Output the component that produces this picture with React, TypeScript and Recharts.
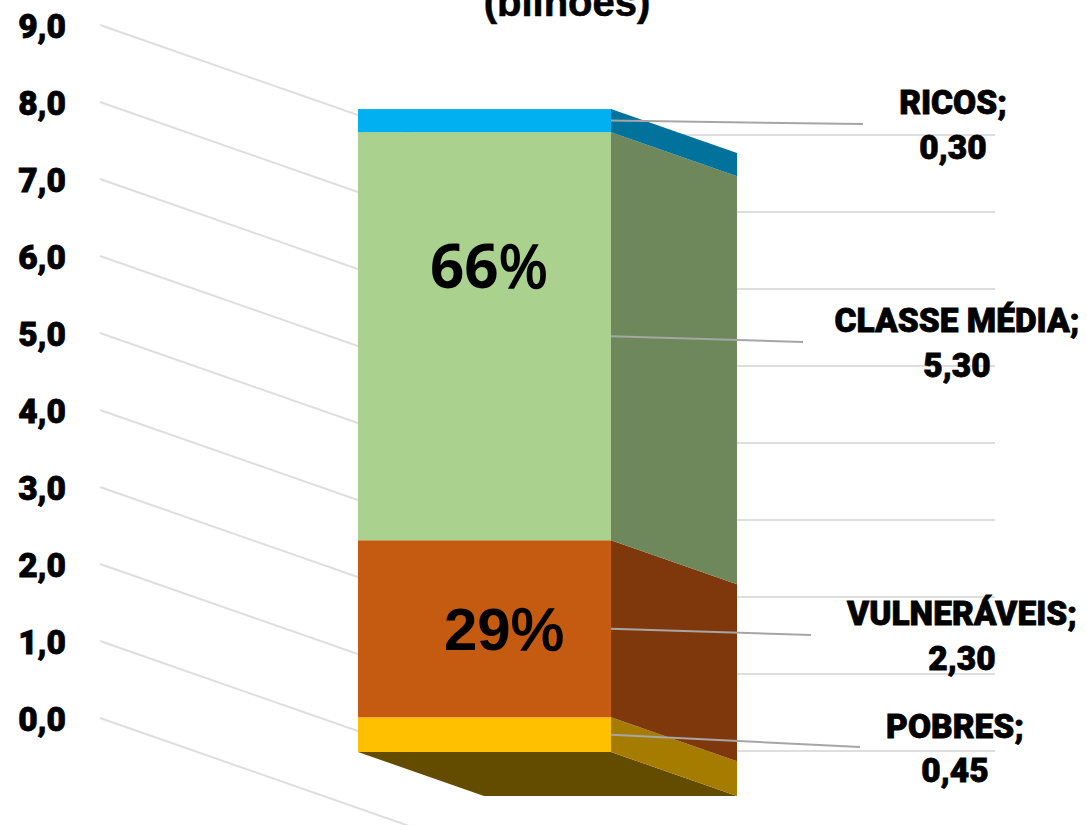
import React from 'react';
import { BarChart, Bar, XAxis, YAxis, CartesianGrid } from 'recharts';

const categories = ['População'];
const seriesNames = ['POBRES', 'VULNERÁVEIS', 'CLASSE MÉDIA', 'RICOS'];
const seriesValues = [0.45, 2.3, 5.3, 0.3];
const percentLabels = ['', '29', '66', ''];
const yTicks = [0, 1, 2, 3, 4, 5, 6, 7, 8, 9];

const data = categories.map(name => {
  const row: any = { name };
  seriesNames.forEach((s, i) => { row[s] = seriesValues[i]; });
  return row;
});

const FRONT = ['#FFC000', '#C55A11', '#ABD18E', '#00B0F0'];
const SIDE = ['#A67C00', '#7F380B', '#6E885C', '#00729C'];
const FLOOR = '#634C00';
const GRID = '#DEDEDE';
const LEADER = '#A6A6A6';
const DEPTH_X = 126;
const DEPTH_Y = 44;
const LABEL_FONT = 'Roboto, sans-serif';

// where the leader of each label ends and where its two text lines sit
const LEADER_END = [[860, 747], [811, 635], [803, 342], [863, 124]];
const LABEL_TEXT = [[955, 738, 782], [962, 625, 670], [957, 332, 377], [953, 114, 159]];
const PERCENT_POS = [[0, 0, ''], [504, 650, 'Liberation Sans, sans-serif'], [489, 288, 'Open Sans, sans-serif']];

const fmtTick = (v: number) => v.toFixed(1).replace('.', ',');
const fmtValue = (v: number) => v.toFixed(2).replace('.', ',');

const renderWall = (p: any) => {
  const y = p.y1 - 34;
  return (
    <path
      key={p.key}
      d={`M100,${y} L415,${y + 110} L995,${y + 110}`}
      fill="none"
      stroke={GRID}
      strokeWidth={2}
    />
  );
};

const renderTick = (p: any) => (
  <text
    x={66}
    y={p.y - 34 + 13}
    textAnchor="end"
    fontFamily={LABEL_FONT}
    fontWeight={900}
    fontSize={33.5}
    stroke="#000"
    strokeWidth={0.8}
    fill="#000"
  >
    {fmtTick(p.payload.value)}
  </text>
);

const makeShape = (i: number) => (p: any) => {
  const { x, y, width, height } = p;
  const r = x + width;
  const b = y + height;
  return (
    <g>
      {i === 0 && (
        <path
          d={`M${x},${b} L${r},${b} L${r + DEPTH_X},${b + DEPTH_Y} L${x + DEPTH_X},${b + DEPTH_Y} Z`}
          fill={FLOOR}
        />
      )}
      <path
        d={`M${r},${y} L${r + DEPTH_X},${y + DEPTH_Y} L${r + DEPTH_X},${b + DEPTH_Y} L${r},${b} Z`}
        fill={SIDE[i]}
      />
      <rect x={x} y={y} width={width} height={height} fill={FRONT[i]} />
    </g>
  );
};

const makeLabel = (i: number) => (p: any) => {
  const { x, y, width, height } = p;
  const r = x + width;
  const mid = y + height / 2;
  const [ex, ey] = LEADER_END[i];
  const [tx, ty1, ty2] = LABEL_TEXT[i];
  const textProps = {
    textAnchor: 'middle' as const,
    fontFamily: LABEL_FONT,
    fontWeight: 900,
    fontSize: 33.5,
    stroke: '#000',
    strokeWidth: 0.8,
    fill: '#000',
  };
  return (
    <g>
      <line x1={r} y1={mid} x2={ex} y2={ey} stroke={LEADER} strokeWidth={2} />
      <text x={tx} y={ty1} {...textProps}>{seriesNames[i]};</text>
      <text x={tx} y={ty2} {...textProps}>{fmtValue(seriesValues[i])}</text>
      {percentLabels[i] && (
        <text
          x={PERCENT_POS[i][0] as number}
          y={PERCENT_POS[i][1] as number}
          textAnchor="middle"
          fontFamily={PERCENT_POS[i][2] as string}
          fontWeight={700}
          fontSize={60}
          fill="#000"
        >
          {percentLabels[i]}
          <tspan fontWeight={400} stroke="#000" strokeWidth={1.6}>%</tspan>
        </text>
      )}
    </g>
  );
};

export default function App() {
  return (
    <div style={{ position: 'fixed', left: 0, top: 0, width: 1087, height: 825, overflow: 'hidden', background: '#fff' }}>
      <BarChart
        width={1087}
        height={825}
        data={data}
        margin={{ top: 59, right: 218, bottom: 73, left: 0 }}
        barSize={253}
      >
        <CartesianGrid vertical={false} horizontal={renderWall} />
        <XAxis dataKey="name" hide />
        <YAxis
          width={100}
          domain={[0, 9]}
          ticks={yTicks}
          axisLine={false}
          tickLine={false}
          tick={renderTick}
          interval={0}
        />
        {seriesNames.map((s, i) => (
          <Bar
            key={s}
            dataKey={s}
            stackId="total"
            isAnimationActive={false}
            shape={makeShape(i)}
            label={makeLabel(i)}
          />
        ))}
        <text
          x={567}
          y={16}
          textAnchor="middle"
          fontFamily="Liberation Sans, sans-serif"
          fontWeight={700}
          fontSize={40}
          stroke="#000"
          strokeWidth={0.6}
          fill="#000"
        >
          (bilhões)
        </text>
      </BarChart>
    </div>
  );
}
